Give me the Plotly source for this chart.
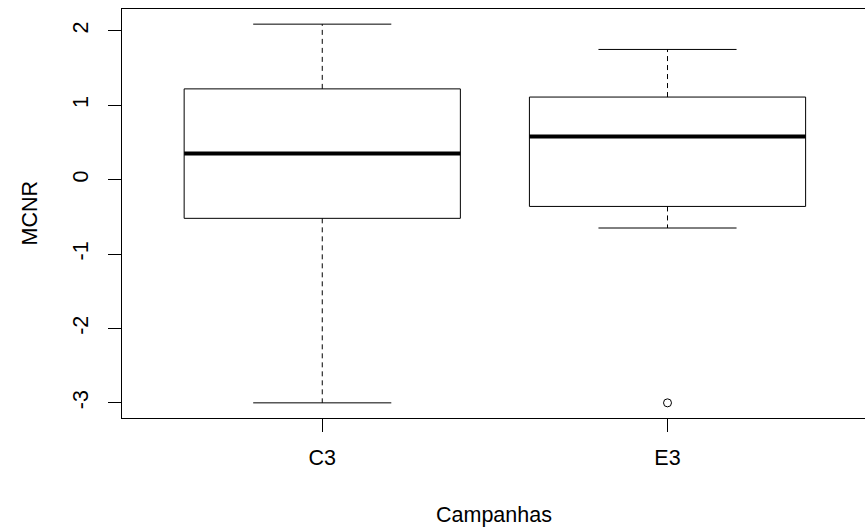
import plotly.graph_objects as go

# ---- data ----
categories = ["C3", "E3"]
lower_whisker = [-3.0, -0.65]
q1 = [-0.52, -0.36]
median = [0.35, 0.58]
q3 = [1.22, 1.11]
upper_whisker = [2.09, 1.75]
outliers = [[], [-3.0]]
y_ticks = [-3, -2, -1, 0, 1, 2]

# ---- style ----
BOX_W = 0.8
CAP_W = 0.4
FONT = "Liberation Sans, Arial, sans-serif"
FS = 21.5
LINE = "black"

fig = go.Figure()
for i, cat in enumerate(categories):
    x = i + 1
    # dashed whiskers
    for a, b in ((q3[i], upper_whisker[i]), (q1[i], lower_whisker[i])):
        fig.add_trace(go.Scatter(x=[x, x], y=[a, b], mode="lines",
                                 line=dict(color=LINE, width=1, dash="5px,4px"),
                                 hoverinfo="skip", showlegend=False))
    # caps
    for v in (upper_whisker[i], lower_whisker[i]):
        fig.add_trace(go.Scatter(x=[x - CAP_W / 2, x + CAP_W / 2], y=[v, v], mode="lines",
                                 line=dict(color=LINE, width=1),
                                 hoverinfo="skip", showlegend=False))
    # box
    fig.add_trace(go.Scatter(
        x=[x - BOX_W / 2, x + BOX_W / 2, x + BOX_W / 2, x - BOX_W / 2, x - BOX_W / 2],
        y=[q1[i], q1[i], q3[i], q3[i], q1[i]], mode="lines",
        line=dict(color=LINE, width=1), hoverinfo="skip", showlegend=False))
    # median
    fig.add_trace(go.Scatter(x=[x - BOX_W / 2, x + BOX_W / 2], y=[median[i], median[i]],
                             mode="lines", line=dict(color=LINE, width=4),
                             hoverinfo="skip", showlegend=False))
    # outliers
    if outliers[i]:
        fig.add_trace(go.Scatter(x=[x] * len(outliers[i]), y=outliers[i], mode="markers",
                                 marker=dict(symbol="circle-open", size=8,
                                             color=LINE, line=dict(width=1)),
                                 hoverinfo="skip", showlegend=False))

ymin = min(lower_whisker + [v for o in outliers for v in o])
ymax = max(upper_whisker)
ext = (ymax - ymin) * 0.04

fig.update_layout(
    width=865, height=531,
    margin=dict(l=122, r=0, t=9, b=113),
    paper_bgcolor="white", plot_bgcolor="white",
    font=dict(family=FONT, size=FS, color="black"),
    showlegend=False,
    xaxis=dict(range=[0.42, 2.572], tickmode="array", tickvals=[1, 2], ticktext=categories,
               ticks="outside", ticklen=13, tickcolor=LINE, tickwidth=1,
               showline=True, linecolor=LINE, linewidth=1, mirror=True,
               showgrid=False, zeroline=False, ticklabelstandoff=7,
               tickfont=dict(family=FONT, size=FS)),
    yaxis=dict(range=[ymin - ext, ymax + ext], tickmode="array", tickvals=y_ticks,
               ticktext=[str(t) for t in y_ticks], tickangle=-90,
               ticks="outside", ticklen=13, tickcolor=LINE, tickwidth=1,
               showline=True, linecolor=LINE, linewidth=1, mirror=False,
               showgrid=False, zeroline=False, ticklabelstandoff=11,
               tickfont=dict(family=FONT, size=FS)),
    annotations=[
        dict(text="Campanhas", xref="paper", yref="paper", x=0.5, y=(418 - 515) / 409,
             xanchor="center", yanchor="middle", showarrow=False,
             font=dict(family=FONT, size=FS)),
        dict(text="MCNR", xref="paper", yref="paper", x=(29 - 122) / 743, y=0.5,
             xanchor="center", yanchor="middle", textangle=-90, showarrow=False,
             font=dict(family=FONT, size=FS)),
    ],
)

fig.write_html("out.html")
